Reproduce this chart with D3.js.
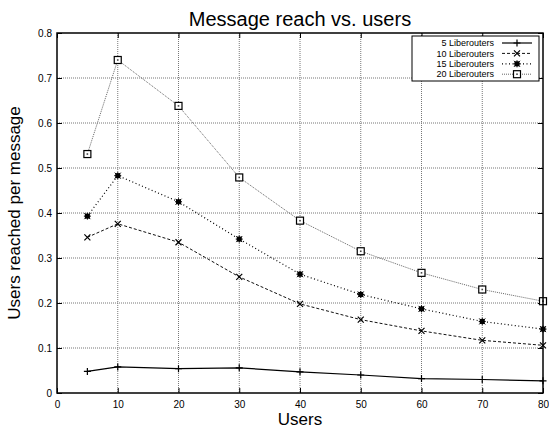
<!DOCTYPE html>
<html>
<head>
<meta charset="utf-8">
<script src="https://cdn.jsdelivr.net/npm/d3@7"></script>
<style>
  body { margin: 0; background: #fff; }
  text { font-family: "Liberation Sans", Arial, Helvetica, sans-serif; fill: #000; }
</style>
</head>
<body>
<svg id="chart"></svg>
<script>
// Data
var users = [5, 10, 20, 30, 40, 50, 60, 70, 80];
var seriesNames = ["5 Liberouters", "10 Liberouters", "15 Liberouters", "20 Liberouters"];
var reach5 = [0.048, 0.058, 0.054, 0.056, 0.047, 0.040, 0.032, 0.030, 0.027];
var reach10 = [0.346, 0.376, 0.335, 0.258, 0.198, 0.163, 0.138, 0.117, 0.106];
var reach15 = [0.393, 0.483, 0.425, 0.342, 0.264, 0.219, 0.187, 0.159, 0.142];
var reach20 = [0.531, 0.740, 0.638, 0.479, 0.383, 0.315, 0.267, 0.230, 0.204];
var xTicks = [0, 10, 20, 30, 40, 50, 60, 70, 80];
var yTicks = [0, 0.1, 0.2, 0.3, 0.4, 0.5, 0.6, 0.7, 0.8];

var svgWidth = 549;
var svgHeight = 432;
var margin = { top: 33, right: 6, bottom: 39, left: 57 };
var chartWidth = svgWidth - margin.left - margin.right;
var chartHeight = svgHeight - margin.top - margin.bottom;

var svg = d3.select("#chart")
    .attr("width", svgWidth)
    .attr("height", svgHeight);

var chart = svg.append("g")
    .attr("transform", "translate(" + margin.left + "," + margin.top + ")");

var xScale = d3.scaleLinear().domain([0, 80]).range([0, chartWidth]);
var yScale = d3.scaleLinear().domain([0, 0.8]).range([chartHeight, 0]);

// grid lines
chart.selectAll(".vgrid")
    .data(xTicks.slice(1, -1))
    .enter()
    .append("line")
    .attr("x1", function (d) { return xScale(d); })
    .attr("x2", function (d) { return xScale(d); })
    .attr("y1", 0)
    .attr("y2", chartHeight)
    .style("stroke", "#777")
    .style("stroke-width", 1)
    .style("stroke-dasharray", "1,1");

chart.selectAll(".hgrid")
    .data(yTicks.slice(1, -1))
    .enter()
    .append("line")
    .attr("x1", 0)
    .attr("x2", chartWidth)
    .attr("y1", function (d) { return yScale(d); })
    .attr("y2", function (d) { return yScale(d); })
    .style("stroke", "#777")
    .style("stroke-width", 1)
    .style("stroke-dasharray", "1,1");

// axes with inward ticks on all four sides
var fmtY = function (d) { return d === 0 ? "0" : d3.format(".1f")(d); };
chart.append("g")
    .attr("transform", "translate(0," + chartHeight + ")")
    .call(d3.axisBottom(xScale).tickValues(xTicks).tickSize(-5).tickPadding(8))
    .call(function (g) { g.select(".domain").remove(); });
chart.append("g")
    .call(d3.axisLeft(yScale).tickValues(yTicks).tickSize(-5).tickPadding(5).tickFormat(fmtY))
    .call(function (g) { g.select(".domain").remove(); });
chart.append("g")
    .call(d3.axisTop(xScale).tickValues(xTicks).tickSize(-5).tickFormat(""))
    .call(function (g) { g.select(".domain").remove(); });
chart.append("g")
    .attr("transform", "translate(" + chartWidth + ",0)")
    .call(d3.axisRight(yScale).tickValues(yTicks).tickSize(-5).tickFormat(""))
    .call(function (g) { g.select(".domain").remove(); });
chart.selectAll(".tick text").style("font-size", "10px").style("font-family", "Liberation Sans, Arial, sans-serif").attr("fill", "#222");

// series
var styles = [
    { color: "#000", width: 1.2, dash: null, marker: "plus" },
    { color: "#111", width: 1, dash: "3,2", marker: "cross" },
    { color: "#000", width: 1.2, dash: "1,2.5", marker: "star" },
    { color: "#666", width: 1, dash: "1,1", marker: "square" }
];
var allSeries = [reach5, reach10, reach15, reach20];

var line = d3.line()
    .x(function (d) { return xScale(d[0]); })
    .y(function (d) { return yScale(d[1]); });

function drawMarker(g, type, color) {
    if (type === "plus") {
        g.append("path").attr("d", "M-3.5,0H3.5M0,-3.5V3.5").style("stroke", color).style("stroke-width", 1.2).style("fill", "none");
    } else if (type === "cross") {
        g.append("path").attr("d", "M-3,-3L3,3M-3,3L3,-3").style("stroke", color).style("stroke-width", 1.2).style("fill", "none");
    } else if (type === "star") {
        g.append("rect").attr("x", -2.5).attr("y", -2.5).attr("width", 5).attr("height", 5).style("fill", "#000");
        g.append("path").attr("d", "M-3.5,0H3.5M0,-3.5V3.5M-3,-3L3,3M-3,3L3,-3").style("stroke", "#000").style("stroke-width", 1).style("fill", "none");
    } else {
        g.append("rect").attr("x", -3.5).attr("y", -3.5).attr("width", 7).attr("height", 7).style("fill", "#fff").style("stroke", "#000").style("stroke-width", 1.2);
        g.append("rect").attr("x", -0.8).attr("y", -0.8).attr("width", 1.6).attr("height", 1.6).style("fill", "#444");
    }
}

allSeries.forEach(function (vals, i) {
    var pts = users.map(function (u, j) { return [u, vals[j]]; });
    var st = styles[i];
    chart.append("path")
        .datum(pts)
        .attr("d", line)
        .style("fill", "none")
        .style("stroke", st.color)
        .style("stroke-width", st.width)
        .style("stroke-dasharray", st.dash);
    chart.selectAll(".m" + i)
        .data(pts)
        .enter()
        .append("g")
        .attr("transform", function (d) { return "translate(" + xScale(d[0]) + "," + yScale(d[1]) + ")"; })
        .each(function () { drawMarker(d3.select(this), st.marker, "#000"); });
});

// frame
chart.append("rect")
    .attr("width", chartWidth)
    .attr("height", chartHeight)
    .style("fill", "none")
    .style("stroke", "#000")
    .style("stroke-width", 1.5);

// legend (rows a bit looser than the original so the labels do not collide)
var legend = chart.append("g").attr("transform", "translate(" + (chartWidth - 131) + ",3)");
legend.append("rect")
    .attr("width", 127)
    .attr("height", 45)
    .style("fill", "#fff")
    .style("stroke", "#000")
    .style("stroke-width", 1);
seriesNames.forEach(function (name, i) {
    var yy = 7 + i * 10.4;
    var st = styles[i];
    legend.append("text")
        .attr("x", 82)
        .attr("y", yy + 3.2)
        .attr("text-anchor", "end")
        .style("font-size", "9px")
        .text(name);
    legend.append("line")
        .attr("x1", 90).attr("x2", 120)
        .attr("y1", yy).attr("y2", yy)
        .style("stroke", st.color)
        .style("stroke-width", st.width)
        .style("stroke-dasharray", st.dash);
    drawMarker(legend.append("g").attr("transform", "translate(105," + yy + ")"), st.marker, "#000");
});

// titles
svg.append("text")
    .attr("x", margin.left + chartWidth / 2)
    .attr("y", 26)
    .attr("text-anchor", "middle")
    .style("font-size", "20px")
    .text("Message reach vs. users");

svg.append("text")
    .attr("x", margin.left + chartWidth / 2)
    .attr("y", 425)
    .attr("text-anchor", "middle")
    .style("font-size", "17px")
    .text("Users");

svg.append("text")
    .attr("transform", "rotate(-90)")
    .attr("x", -(margin.top + chartHeight / 2))
    .attr("y", 20)
    .attr("text-anchor", "middle")
    .style("font-size", "17px")
    .text("Users reached per message");
</script>
</body>
</html>
